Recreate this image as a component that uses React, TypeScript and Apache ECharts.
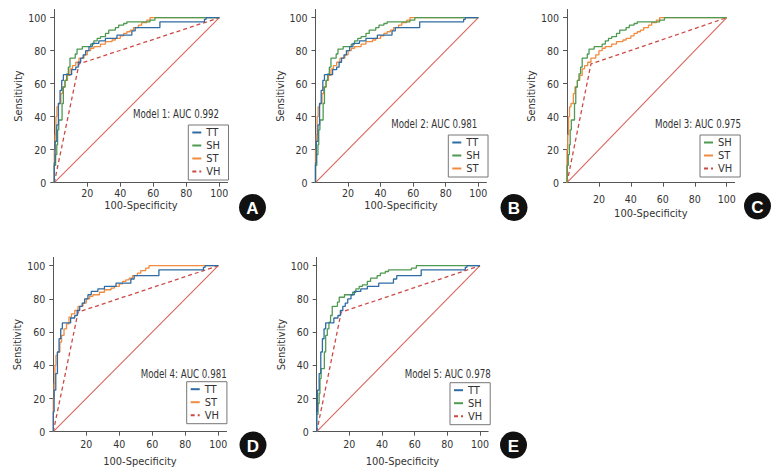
import React, { useEffect, useRef } from "react";
import * as echarts from "echarts";

// ---- Data ----
const TT: number[][] = [[0,0],[0,12],[0.5,12],[0.5,25],[1.5,25],[1.5,35],[2.5,35],[2.5,48],[3.5,48],[3.5,56],[4.5,56],[4.5,62],[5.5,62],[5.5,65.5],[10.5,65.5],[10.5,68.5],[13,68.5],[13,70],[14.5,70],[14.5,73],[16,73],[16,75.5],[17.5,75.5],[17.5,77.5],[19,77.5],[19,80],[21,80],[21,82.5],[23,82.5],[23,84.5],[27,84.5],[27,86],[31,86],[31,87.5],[38,87.5],[38,89.5],[47,89.5],[47,92],[49,92],[49,94],[64,94],[64,97.5],[91,97.5],[91,99],[92,99],[92,100],[100,100]];
const SH: number[][] = [[0,0],[0,10.5],[0.8,10.5],[0.8,17],[1.5,17],[1.5,23],[2,23],[2,32],[2.7,32],[2.7,38],[4.7,38],[4.7,48],[5.5,48],[5.5,58],[6.5,58],[6.5,62],[7.5,62],[7.5,66],[8.5,66],[8.5,70],[9.5,70],[9.5,75.5],[12.7,75.5],[12.7,78],[13.8,78],[13.8,81],[17,81],[17,82.5],[22,82.5],[22,84],[24,84],[24,86],[26,86],[26,87.5],[28,87.5],[28,88.5],[31,88.5],[31,90.5],[33,90.5],[33,92.5],[37,92.5],[37,94],[39,94],[39,95.5],[42,95.5],[42,96.5],[44,96.5],[44,97.5],[58,97.5],[58,98.5],[61,98.5],[61,100],[100,100]];
const ST: number[][] = [[0,0],[0,20],[0.5,20],[0.5,29],[1,29],[1,40],[1.6,40],[1.6,46],[2.5,46],[2.5,48],[4,48],[4,54],[5,54],[5,58],[6.5,58],[6.5,62],[8,62],[8,65],[9.5,65],[9.5,69],[11,69],[11,71],[13,71],[13,73],[15,73],[15,75.5],[18,75.5],[18,77.5],[20,77.5],[20,80],[22,80],[22,81.5],[24,81.5],[24,82.5],[28,82.5],[28,84],[31,84],[31,85.5],[35,85.5],[35,86.5],[37,86.5],[37,87.5],[40,87.5],[40,89],[42,89],[42,90.5],[44,90.5],[44,91.5],[46,91.5],[46,92.5],[48,92.5],[48,94],[51,94],[51,95.5],[53,95.5],[53,97],[56,97],[56,98.5],[58,98.5],[58,100],[100,100]];
const VH: number[][] = [[0,0],[15,72],[100,100]];
const REFERENCE: number[][] = [[0,0],[100,100]];

const tickValues = [0, 20, 40, 60, 80, 100];
const xLabelValues = [20, 40, 60, 80, 100];
const yLabelValues = [0, 20, 40, 60, 80, 100];

const panelLetters = ["A", "B", "C", "D", "E"];
const panelTitles = ["Model 1: AUC 0.992", "Model 2: AUC 0.981", "Model 3: AUC 0.975", "Model 4: AUC 0.981", "Model 5: AUC 0.978"];
const panelCurves = [["TT", "SH", "ST", "VH"], ["TT", "SH", "ST"], ["SH", "ST", "VH"], ["TT", "ST", "VH"], ["TT", "SH", "VH"]];
const xName = "100-Specificity";
const yName = "Sensitivity";

const curveData: Record<string, number[][]> = { TT, SH, ST, VH };
const curveStyle: Record<string, any> = {
  TT: { color: "#2f6ca3", width: 1.3, type: "solid" },
  SH: { color: "#4e9a50", width: 1.3, type: "solid" },
  ST: { color: "#f08b40", width: 1.3, type: "solid" },
  VH: { color: "#cc4a44", width: 1.3, type: [4, 3] },
};

// ---- Layout ----
const layout = [
  { x0: 54.3, x100: 219.3, y0: 182.7, y100: 17.7, lm: 5, xg: 17, yg: 30, title: [219, 114], legend: [188.3, 125], circle: [252.5, 207.5] },
  { x0: 315.5, x100: 478.3, y0: 182.7, y100: 17.7, lm: 5, xg: 17, yg: 30, title: [477.3, 124], legend: [448.3, 135], circle: [514, 207.5] },
  { x0: 567, x100: 726.7, y0: 182.7, y100: 17.7, lm: 11, xg: 25, yg: 30, title: [741, 124], legend: [700, 135], circle: [757.5, 206] },
  { x0: 53.3, x100: 218.3, y0: 431.7, y100: 265.7, lm: 7, xg: 24, yg: 29, title: [226.7, 374.3], legend: [186.7, 381.7], circle: [253, 445] },
  { x0: 316.7, x100: 480, y0: 431.7, y100: 265.7, lm: 7, xg: 24, yg: 29, title: [490.7, 374.3], legend: [450, 382.7], circle: [513.5, 445] },
];

const FONT = "'Liberation Sans Narrow', 'DejaVu Sans Condensed', 'Liberation Sans', sans-serif";
const TEXT = "#333";
const AXIS = "#555";

function buildOption() {
  const grid: any[] = [];
  const xAxis: any[] = [];
  const yAxis: any[] = [];
  const series: any[] = [];
  const legend: any[] = [];
  const graphic: any[] = [];

  layout.forEach((L, i) => {
    const w = (L.x100 - L.x0) * 1.05;
    const h = (L.y0 - L.y100) * 1.05;
    grid.push({ left: L.x0, top: L.y0 - h, width: w, height: h, containLabel: false });
    const common = {
      type: "value",
      gridIndex: i,
      min: 0,
      max: 105,
      interval: 20,
      splitLine: { show: false },
      axisLine: { show: true, onZero: false, lineStyle: { color: AXIS, width: 1 } },
      axisTick: { show: true, length: 4, inside: false, customValues: tickValues, lineStyle: { color: AXIS, width: 1 } },
      nameLocation: "middle",
      nameTextStyle: { color: TEXT, fontSize: 11, fontFamily: FONT },
    };
    xAxis.push({
      ...common,
      name: xName,
      nameGap: L.xg,
      axisTick: { ...common.axisTick, customValues: xLabelValues },
      axisLabel: {
        customValues: xLabelValues,
        margin: L.lm,
        color: TEXT,
        fontSize: 10.5,
        fontFamily: FONT,
        formatter: (v: number) => (v > 0 && v % 20 === 0 ? String(v) : ""),
      },
    });
    yAxis.push({
      ...common,
      name: yName,
      nameGap: L.yg,
      axisLabel: {
        customValues: yLabelValues,
        margin: 8,
        color: TEXT,
        fontSize: 10.5,
        fontFamily: FONT,
        formatter: (v: number) => (v % 20 === 0 ? String(v) : ""),
      },
    });

    series.push({
      type: "line",
      name: "Reference",
      xAxisIndex: i,
      yAxisIndex: i,
      data: REFERENCE,
      symbol: "none",
      silent: true,
      lineStyle: { color: "#d9665e", width: 1.1 },
      z: 1,
    });
    const names = panelCurves[i];
    const order = ["VH", "ST", "SH", "TT"].filter((n) => names.includes(n));
    order.forEach((n, k) => {
      const s = curveStyle[n];
      series.push({
        type: "line",
        name: n,
        xAxisIndex: i,
        yAxisIndex: i,
        data: curveData[n],
        symbol: "none",
        color: s.color,
        lineStyle: { color: s.color, width: s.width, type: s.type },
        z: 2 + k,
      });
    });

    legend.push({
      show: true,
      orient: "vertical",
      left: L.legend[0],
      top: L.legend[1],
      data: names,
      selectedMode: false,
      itemWidth: 9,
      itemHeight: 8,
      itemGap: 0,
      padding: [1, 8, 2, 3],
      borderColor: "#777",
      borderWidth: 1,
      borderRadius: 0,
      backgroundColor: "#fff",
      itemStyle: { opacity: 0 },
      textStyle: { fontSize: 11, color: TEXT, fontFamily: FONT, lineHeight: 13 },
    });

    graphic.push({
      type: "text",
      x: L.title[0],
      y: L.title[1],
      scaleX: 0.84,
      style: { text: panelTitles[i], align: "right", verticalAlign: "middle", fill: TEXT, font: `11.5px ${FONT}` },
    });
    graphic.push({
      type: "circle",
      shape: { cx: L.circle[0], cy: L.circle[1], r: 13.5 },
      style: { fill: "#111" },
    });
    graphic.push({
      type: "text",
      x: L.circle[0],
      y: L.circle[1] + 1,
      style: { text: panelLetters[i], align: "center", verticalAlign: "middle", fill: "#fff", font: "bold 17px 'Liberation Sans', Arial, sans-serif" },
    });
  });

  return {
    animation: false,
    backgroundColor: "#fff",
    grid,
    xAxis,
    yAxis,
    series,
    legend,
    graphic,
  };
}

export default function App() {
  const ref = useRef<HTMLDivElement>(null);
  useEffect(() => {
    if (!ref.current) return;
    const chart = echarts.init(ref.current, undefined, { renderer: "svg" });
    chart.setOption(buildOption() as any);
    return () => chart.dispose();
  }, []);
  return (
    <div
      ref={ref}
      style={{ position: "fixed", left: 0, top: 0, width: 781, height: 476, background: "#fff" }}
    />
  );
}
